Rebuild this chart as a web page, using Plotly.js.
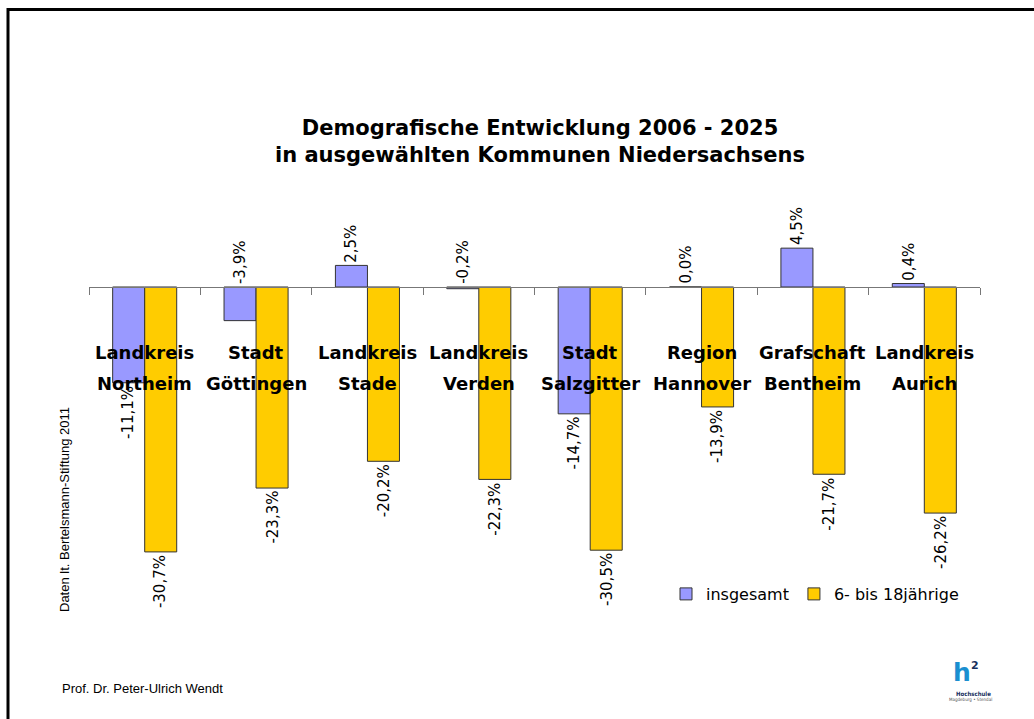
<!DOCTYPE html>
<html>
<head>
<meta charset="utf-8">
<script src="https://cdn.plot.ly/plotly-3.0.1.min.js"></script>
<style>
  html, body { margin: 0; padding: 0; background: #fff; }
  #chart { width: 1034px; height: 719px; }
</style>
</head>
<body>
<div id="chart"></div>
<script>
// ---- data ----
const categories = ['Landkreis Northeim', 'Stadt Göttingen', 'Landkreis Stade', 'Landkreis Verden',
                    'Stadt Salzgitter', 'Region Hannover', 'Grafschaft Bentheim', 'Landkreis Aurich'];
const insgesamt = [-11.1, -3.9, 2.5, -0.2, -14.7, 0.0, 4.5, 0.4];
const jugendliche = [-30.7, -23.3, -20.2, -22.3, -30.5, -13.9, -21.7, -26.2];
const seriesNames = ['insgesamt', '6- bis 18jährige'];
const titleText = 'Demografische Entwicklung 2006 - 2025<br>in ausgewählten Kommunen Niedersachsens';
const sourceText = 'Daten lt. Bertelsmann-Stiftung 2011';
const authorText = 'Prof. Dr. Peter-Ulrich Wendt';

// ---- layout geometry ----
const W = 1034, H = 719;
const L = 89, R = 54, T = 200, B = 99;
const PW = W - L - R, PH = H - T - B;
const yRange = [-38.59, 10.08];
const bargap = 0.425;
const px2x = px => (px - L) / PW;
const py2y = py => (T + PH - py) / PH;
const zeroPos = (0 - yRange[0]) / (yRange[1] - yRange[0]);

const fmt = v => v.toFixed(1).replace('.', ',') + '%';

const traces = [
  {
    type: 'bar', name: seriesNames[0], x: categories, y: insgesamt,
    marker: { color: '#9999FF', line: { color: '#333333', width: 1 } },
    hoverinfo: 'skip'
  },
  {
    type: 'bar', name: seriesNames[1], x: categories, y: jugendliche,
    marker: { color: '#FFCC00', line: { color: '#333333', width: 1 } },
    hoverinfo: 'skip'
  }
];

const annotations = [];
const offset = (1 - bargap) / 4;
[insgesamt, jugendliche].forEach((series, s) => {
  series.forEach((v, i) => {
    const below = v <= -5;
    annotations.push({
      x: i + (s === 0 ? -offset : offset), xref: 'x',
      y: below ? v : Math.max(v, 0), yref: 'y',
      text: fmt(v), textangle: -90, showarrow: false,
      xanchor: 'center', yanchor: below ? 'top' : 'bottom',
      yshift: below ? -1 : 1,
      font: { family: 'DejaVu Sans', size: 15, color: '#000' }
    });
  });
});

// category labels (two lines each)
categories.forEach((c, i) => {
  const idx = c.indexOf(' ');
  const lines = [c.slice(0, idx), c.slice(idx + 1)];
  lines.forEach((ln, k) => {
    annotations.push({
      x: i, xref: 'x', y: py2y(k === 0 ? 352 : 383), yref: 'paper',
      text: ln, showarrow: false, xanchor: 'center', yanchor: 'middle',
      font: { family: 'DejaVu Sans', size: 18, weight: 700, color: '#000' }
    });
  });
});

// side texts
annotations.push({
  x: px2x(64), xref: 'paper', y: py2y(510), yref: 'paper',
  text: sourceText, textangle: -90, showarrow: false,
  xanchor: 'center', yanchor: 'middle',
  font: { family: 'Liberation Sans Narrow, Liberation Sans', size: 13, color: '#000' }
});
annotations.push({
  x: px2x(60), xref: 'paper', y: py2y(688), yref: 'paper',
  text: authorText, showarrow: false, xanchor: 'left', yanchor: 'middle',
  font: { family: 'Liberation Sans', size: 13, color: '#000' }
});
// logo
annotations.push({
  x: px2x(951), xref: 'paper', y: py2y(672), yref: 'paper',
  text: '<b>h</b>', showarrow: false, xanchor: 'left', yanchor: 'middle',
  font: { family: 'DejaVu Sans', size: 25, color: '#1a8fd0' }
});
annotations.push({
  x: px2x(975), xref: 'paper', y: py2y(665), yref: 'paper',
  text: '<b>2</b>', showarrow: false, xanchor: 'center', yanchor: 'middle',
  font: { family: 'DejaVu Sans', size: 11, color: '#16305e' }
});
annotations.push({
  x: px2x(973), xref: 'paper', y: py2y(693), yref: 'paper',
  text: '<b>Hochschule</b>', showarrow: false, xanchor: 'center', yanchor: 'middle',
  font: { family: 'DejaVu Sans Condensed, DejaVu Sans', size: 6, color: '#16305e' }
});
annotations.push({
  x: px2x(970), xref: 'paper', y: py2y(699.5), yref: 'paper',
  text: 'Magdeburg • Stendal', showarrow: false, xanchor: 'center', yanchor: 'middle',
  font: { family: 'DejaVu Sans Condensed, DejaVu Sans', size: 4.5, color: '#555' }
});

const shapes = [
  { type: 'line', xref: 'paper', yref: 'paper', x0: px2x(7), x1: px2x(1034), y0: py2y(9.5), y1: py2y(9.5),
    line: { color: '#000', width: 3 } },
  { type: 'line', xref: 'paper', yref: 'paper', x0: px2x(8), x1: px2x(8), y0: py2y(8), y1: py2y(719),
    line: { color: '#000', width: 3 } }
];

const layout = {
  width: W, height: H,
  margin: { l: L, r: R, t: T, b: B, pad: 0 },
  paper_bgcolor: '#fff', plot_bgcolor: 'rgba(0,0,0,0)',
  title: {
    text: titleText, x: px2x(540), xref: 'paper', xanchor: 'center',
    y: 1 - 134.5 / H, yref: 'container', yanchor: 'middle',
    font: { family: 'DejaVu Sans', size: 21, weight: 700, color: '#000' }
  },
  barmode: 'group', bargap: bargap, bargroupgap: 0,
  showlegend: true,
  legend: {
    orientation: 'h', x: px2x(666), xanchor: 'left', y: py2y(594), yanchor: 'middle',
    font: { family: 'DejaVu Sans', size: 16, color: '#000' },
    bgcolor: 'rgba(0,0,0,0)', itemwidth: 30, traceorder: 'normal'
  },
  xaxis: {
    type: 'category', anchor: 'free', position: zeroPos,
    showline: true, linecolor: '#777', linewidth: 1,
    ticks: 'outside', tickson: 'boundaries', ticklen: 7, tickcolor: '#777', tickwidth: 1,
    showticklabels: false, showgrid: false, zeroline: false, fixedrange: true
  },
  yaxis: {
    range: yRange, showline: false, showticklabels: false, showgrid: false,
    zeroline: false, ticks: '', fixedrange: true
  },
  annotations: annotations,
  shapes: shapes
};

Plotly.newPlot('chart', traces, layout, { displayModeBar: false, staticPlot: true });
</script>
</body>
</html>
